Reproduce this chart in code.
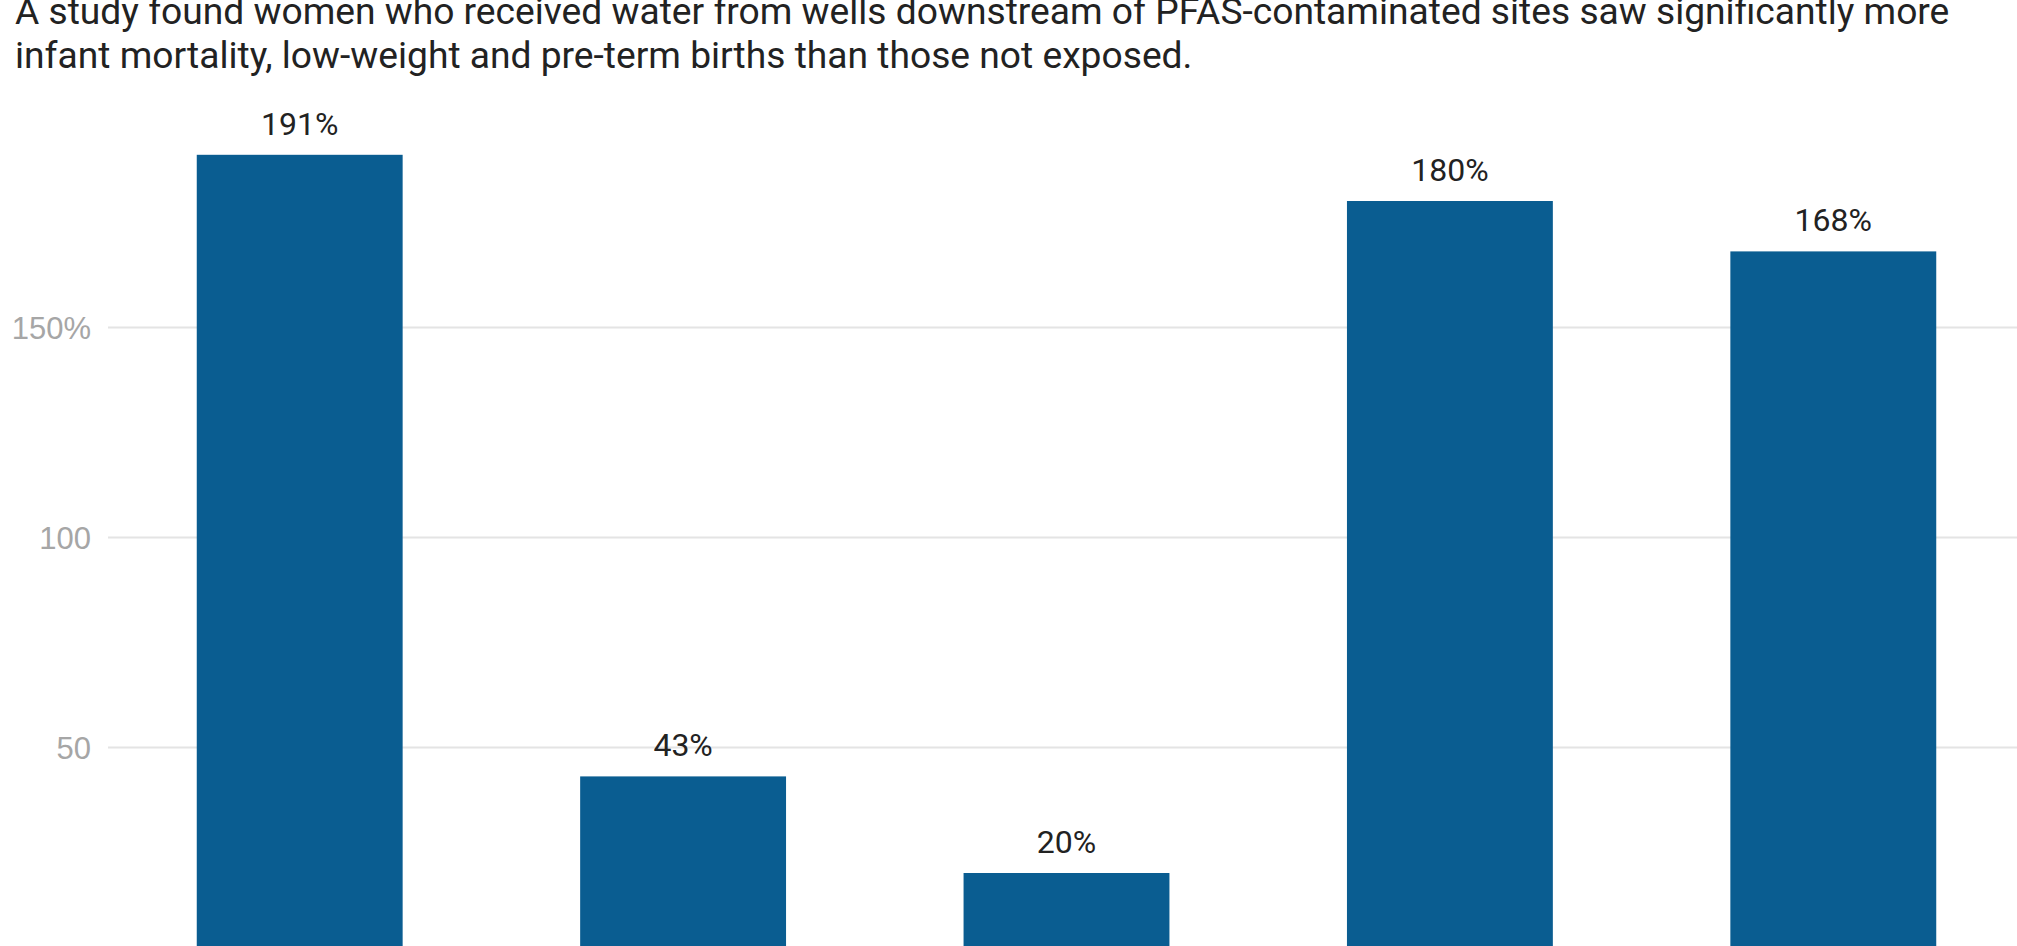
<!DOCTYPE html>
<html>
<head>
<meta charset="utf-8">
<script src="https://cdn.jsdelivr.net/npm/d3@7"></script>
<style>
  html, body { margin: 0; padding: 0; background: #fff; overflow: hidden; }
  svg { display: block; font-family: Roboto, "Noto Sans", sans-serif; }
  .tick line { stroke: #e4e4e4; stroke-width: 2; }
  .tick text { fill: #a6a6a6; font-size: 31px; }
</style>
</head>
<body>
<div id="chart"></div>
<script>
// Data (category labels sit below the visible area)
var categories = ["Bar 1", "Bar 2", "Bar 3", "Bar 4", "Bar 5"];
var values = [191, 43, 20, 180, 168];
var yTicks = [50, 100, 150];
var subtitleLines = [
  "A study found women who received water from wells downstream of PFAS-contaminated sites saw significantly more",
  "infant mortality, low-weight and pre-term births than those not exposed."
];

var svgWidth = 2017;
var svgHeight = 946;

// Plot area: zero line sits just below the bottom edge of the view
var plot = { left: 108, right: 2025, zero: 957, top: 117 };

var svg = d3
  .select("#chart")
  .append("svg")
  .attr("width", svgWidth)
  .attr("height", svgHeight);

// subtitle
var subtitle = svg
  .append("text")
  .attr("x", 15)
  .attr("y", 24)
  .attr("fill", "#222")
  .style("font-size", "37.2px");

subtitle
  .selectAll("tspan")
  .data(subtitleLines)
  .enter()
  .append("tspan")
  .attr("x", 15)
  .attr("dy", (d, i) => (i === 0 ? 0 : 44.3))
  .text((d) => d);

// scales
var xBandScale = d3
  .scaleBand()
  .domain(categories)
  .range([plot.left, plot.right])
  .paddingInner(0.463)
  .paddingOuter(0.2315);

var yLinearScale = d3
  .scaleLinear()
  .domain([0, 200])
  .range([plot.zero, plot.top]);

// y axis with gridlines
var leftAxis = d3
  .axisLeft(yLinearScale)
  .tickValues(yTicks)
  .tickSize(-(svgWidth - plot.left))
  .tickPadding(17)
  .tickFormat((d) => (d === 150 ? d + "%" : d));

var yAxis = svg
  .append("g")
  .attr("transform", `translate(${plot.left}, 0)`)
  .call(leftAxis);

yAxis.select(".domain").remove();
yAxis.selectAll(".tick text").attr("dy", "0.36em");

// bars
svg
  .append("g")
  .selectAll("rect")
  .data(values)
  .enter()
  .append("rect")
  .attr("x", (d, i) => xBandScale(categories[i]))
  .attr("y", (d) => yLinearScale(d))
  .attr("width", xBandScale.bandwidth())
  .attr("height", (d) => yLinearScale(0) - yLinearScale(d))
  .attr("fill", "#0a5d91");

// value labels
svg
  .append("g")
  .selectAll("text")
  .data(values)
  .enter()
  .append("text")
  .attr("x", (d, i) => xBandScale(categories[i]) + xBandScale.bandwidth() / 2)
  .attr("y", (d) => yLinearScale(d) - 20)
  .attr("text-anchor", "middle")
  .attr("fill", "#222")
  .style("font-size", "32px")
  .text((d) => d + "%");
</script>
</body>
</html>
